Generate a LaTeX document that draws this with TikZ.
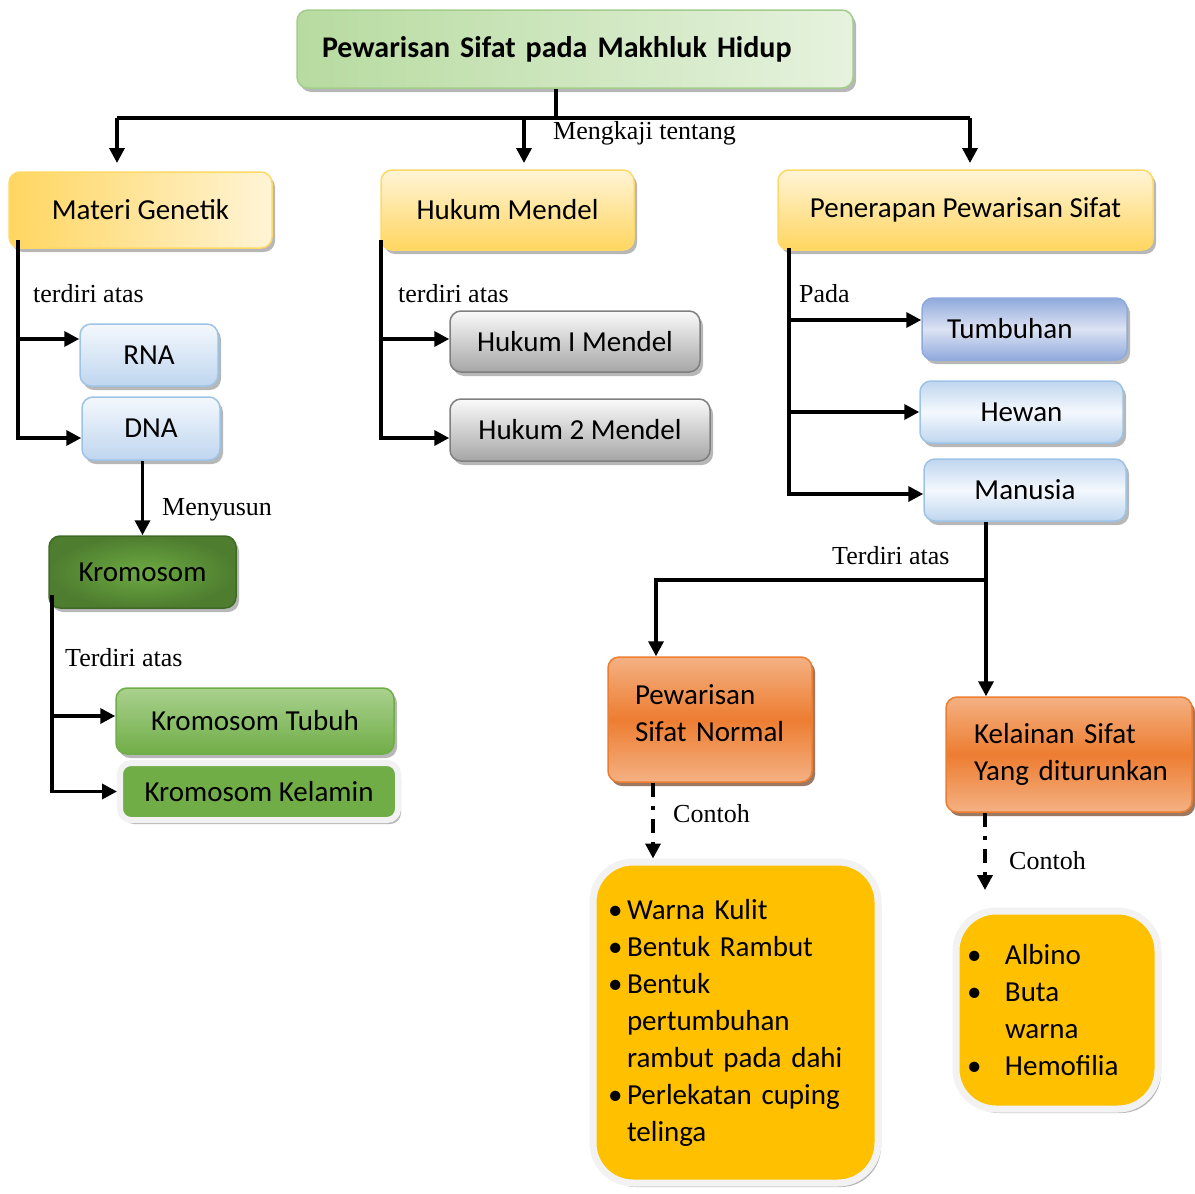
\documentclass[tikz,border=0pt]{standalone}
\usepackage{fontspec}
\setmainfont{Liberation Serif}
\newfontfamily\boxfont{Carlito}
\usetikzlibrary{arrows.meta,shadows}

\definecolor{titleA}{HTML}{B7DBA0}
\definecolor{titleB}{HTML}{E6F2DE}
\definecolor{titleLine}{HTML}{A3CD8A}
\definecolor{yelA}{HTML}{FFD660}
\definecolor{yelB}{HTML}{FFF4D6}
\definecolor{yelLine}{HTML}{FFD966}
\definecolor{bluA}{HTML}{F4F8FD}
\definecolor{bluB}{HTML}{BFD6EF}
\definecolor{bluLine}{HTML}{9DC3E6}
\definecolor{tumA}{HTML}{DCE3F3}
\definecolor{tumB}{HTML}{90A9DC}
\definecolor{tumLine}{HTML}{8FAADC}
\definecolor{grayA}{HTML}{FAFAFA}
\definecolor{grayB}{HTML}{A6A6A6}
\definecolor{grayLine}{HTML}{7F7F7F}
\definecolor{kroA}{HTML}{6DAA42}
\definecolor{kroB}{HTML}{4E7D2F}
\definecolor{kroLine}{HTML}{3F6A26}
\definecolor{grnA}{HTML}{A9D18E}
\definecolor{grnB}{HTML}{70AD47}
\definecolor{orA}{HTML}{F4B183}
\definecolor{orB}{HTML}{ED7D31}
\definecolor{orShadow}{HTML}{843C0C}
\definecolor{gold}{HTML}{FFC000}
\definecolor{ring}{HTML}{F2F2F2}

\newcommand{\bitem}[1][19pt]{\makebox[#1][l]{\textbullet}}

\tikzset{
  box/.style={rounded corners=11pt, inner sep=0pt, line width=1.5pt,
    font=\boxfont\fontsize{29}{37}\selectfont,
    drop shadow={shadow xshift=3pt, shadow yshift=-4pt, opacity=.4, fill=black!70}},
  ybox/.style={box, draw=yelLine, top color=yelB, bottom color=yelA},
  bbox/.style={box, draw=bluLine, top color=bluA, bottom color=bluB},
  gbox/.style={box, draw=grayLine, top color=grayA, bottom color=grayB},
  obox/.style={box, draw=orB, top color=orA, bottom color=orA, middle color=orB,
    drop shadow={shadow xshift=3pt, shadow yshift=-4pt, fill=orShadow}},
  listbox/.style={box, rounded corners=40pt, draw=ring, line width=7pt, fill=gold, align=left},
  lbl/.style={font=\fontsize{26}{30}\selectfont, inner sep=0pt, anchor=west},
  line/.style={line width=3.5pt},
  arr/.style={line width=3.5pt, -{Triangle[length=15pt,width=15pt]}},
  dasharr/.style={arr, dash pattern=on 14pt off 9pt on 4pt off 9pt}
}

\begin{document}
\begin{tikzpicture}[x=1pt, y=-1pt]
  \useasboundingbox (0,0) rectangle (1195,1194);

  % top of the map
  \node[box, draw=titleLine, left color=titleA, right color=titleB, text width=506pt, align=left,
        minimum width=556, minimum height=78, font=\boxfont\bfseries\fontsize{30}{36}\selectfont]
        (title) at (575,49) {Pewarisan Sifat pada Makhluk Hidup};
  \node[ybox, left color=yelA, right color=yelB, minimum width=263, minimum height=76] (mg) at (140.5,210) {Materi Genetik};
  \node[ybox, minimum width=253, minimum height=80] (hm) at (507.5,210) {Hukum Mendel};
  \node[ybox, minimum width=375, minimum height=80] (pps) at (965.5,210) {Penerapan Pewarisan Sifat};

  \coordinate (hub) at (556,118);
  \coordinate (tipmg) at (117,163);
  \coordinate (tiphm) at (524,163);
  \coordinate (tippps) at (970,163);
  \draw[line] (title.south -| hub) -- (hub);
  \draw[line] (hub -| tipmg) -- (hub -| tippps);
  \draw[arr] (hub -| tipmg) -- (tipmg);
  \draw[arr] (hub -| tiphm) -- (tiphm);
  \draw[arr] (hub -| tippps) -- (tippps);
  \node[lbl] (kaji) at (553,133) {Mengkaji tentang};

  % materi genetik
  \node[bbox, minimum width=138, minimum height=62] (rna) at (149,355) {RNA};
  \node[bbox, minimum width=138, minimum height=63] (dna) at (151,428.5) {DNA};
  \coordinate (mgfoot) at (18,240);
  \draw[arr] (mgfoot) |- ([yshift=16pt]rna.west);
  \draw[arr] (mgfoot) |- ([yshift=-9.5pt]dna.west);
  \node[lbl] (mgterdiri) at (33,294) {terdiri atas};

  % kromosom
  \node[box, draw=kroLine, shading=radial, inner color=kroA, outer color=kroB,
        minimum width=187, minimum height=72] (kro) at (142.5,572) {Kromosom};
  \draw[arr] (kro.north |- dna.south) -- (kro.north);
  \node[lbl] (susun) at (162,510) {Menyusun};

  \node[box, draw=grnB, top color=grnA, bottom color=grnB, minimum width=278, minimum height=66] (kt) at (255,721) {Kromosom Tubuh};
  \node[box, draw=ring, line width=6pt, fill=grnB, minimum width=278, minimum height=57] (kk) at (259,791.5) {Kromosom Kelamin};
  \coordinate (krofoot) at (52,595);
  \draw[arr] (krofoot) |- ([yshift=5pt]kt.west);
  \draw[arr] (krofoot) |- (kk.west);
  \node[lbl] (kroterdiri) at (65,658) {Terdiri atas};

  % hukum mendel
  \node[gbox, minimum width=250, minimum height=61] (hm1) at (575,341.5) {Hukum I Mendel};
  \node[gbox, minimum width=260, minimum height=62] (hm2) at (580,430) {Hukum 2 Mendel};
  \coordinate (hmfoot) at (381,240);
  \draw[arr] (hmfoot) |- ([yshift=2.5pt]hm1.west);
  \draw[arr] (hmfoot) |- ([yshift=-8pt]hm2.west);
  \node[lbl] (hmterdiri) at (398,294) {terdiri atas};

  % penerapan
  \node[box, draw=tumLine, top color=tumB, bottom color=tumB, middle color=tumA, text width=155pt, align=left,
        minimum width=205, minimum height=62] (tum) at (1024.5,329) {Tumbuhan};
  \node[bbox, top color=bluB, bottom color=bluB, middle color=bluA, minimum width=203, minimum height=62] (hew) at (1021.5,412) {Hewan};
  \node[bbox, top color=bluB, bottom color=bluB, middle color=bluA, minimum width=202, minimum height=62] (man) at (1025,490) {Manusia};
  \coordinate (ppsfoot) at (789,248);
  \draw[arr] (ppsfoot) |- ([yshift=9pt]tum.west);
  \draw[arr] (ppsfoot) |- (hew.west);
  \draw[arr] (ppsfoot) |- ([yshift=-4pt]man.west);
  \node[lbl] (pada) at (799,294) {Pada};

  % pewarisan normal / kelainan
  \node[obox, text width=150pt, align=left, minimum width=204, minimum height=125] (psn) at (710,719.5)
    {Pewarisan\\Sifat Normal\\[-24pt]\mbox{}};
  \node[obox, text width=190pt, align=left, minimum width=246, minimum height=115] (kel) at (1069,754.5)
    {\mbox{Kelainan Sifat}\\\mbox{Yang diturunkan}};
  \coordinate (split) at (986,580);
  \draw[line] (man.south -| split) -- (split);
  \draw[arr] (split) -- (kel.north -| split);
  \draw[arr] (split) -| ([xshift=-54pt]psn.north);
  \node[lbl] (manterdiri) at (832,556) {Terdiri atas};

  % contoh
  \node[listbox, text width=255pt, minimum width=285, minimum height=321] (ex1) at (735.5,1022.5)
    {\bitem Warna Kulit\\ \bitem Bentuk Rambut\\ \bitem Bentuk\\ \hspace*{19pt}pertumbuhan\\
     \hspace*{19pt}rambut pada dahi\\ \bitem Perlekatan cuping\\ \hspace*{19pt}telinga};
  \node[listbox, text width=180pt, minimum width=202, minimum height=198] (ex2) at (1057,1010)
    {\bitem[38pt]Albino\\ \bitem[38pt]Buta\\ \hspace*{38pt}warna\\ \bitem[38pt]Hemofilia};
  \coordinate (ex2tip) at (985,890);
  \draw[dasharr] ([xshift=-57pt]psn.south) -- ([xshift=-57pt]psn.south |- ex1.north);
  \draw[dasharr] (kel.south -| ex2tip) -- (ex2tip);
  \node[lbl] (contoh1) at (673,814) {Contoh};
  \node[lbl] (contoh2) at (1009,861) {Contoh};
\end{tikzpicture}
\end{document}
